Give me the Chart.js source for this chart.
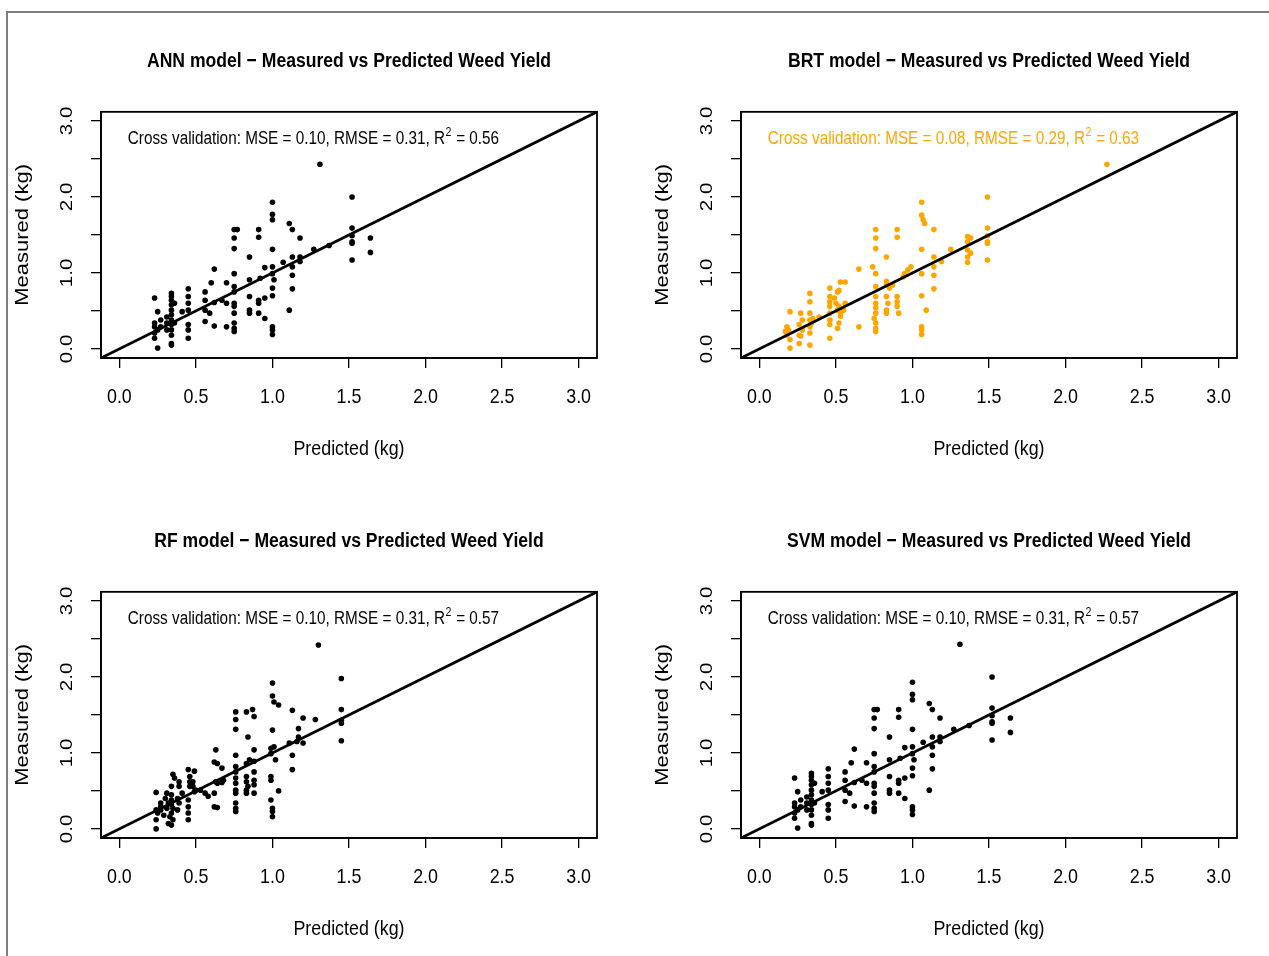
<!DOCTYPE html>
<html>
<head>
<meta charset="utf-8">
<script src="https://cdn.jsdelivr.net/npm/chart.js@4.4.1/dist/chart.umd.min.js"></script>
<style>
    html, body { margin: 0; padding: 0; background: #fff; overflow: hidden; }
    #page { position: relative; width: 1269px; height: 956px; }
    #frame { position: absolute; left: 6px; top: 11px; right: -5px; bottom: -5px;
             border-top: 2px solid #7d7d7d; border-left: 2px solid #7d7d7d; }
    canvas { position: absolute; }
</style>
</head>
<body>
<div id="page">
    <div id="frame"></div>
    <canvas id="annChart" width="640" height="478" style="left:0;top:0"></canvas>
    <canvas id="brtChart" width="640" height="478" style="left:640px;top:0"></canvas>
    <canvas id="rfChart" width="640" height="478" style="left:0;top:480px"></canvas>
    <canvas id="svmChart" width="640" height="478" style="left:640px;top:480px"></canvas>
</div>
<script>
// === Данные ===
const tickValues = [0, 0.5, 1, 1.5, 2, 2.5, 3];
const xTickLabels = ['0.0', '0.5', '1.0', '1.5', '2.0', '2.5', '3.0'];
const yTickLabels = ['0.0', '', '1.0', '', '2.0', '', '3.0'];

const modelNames = ['ANN', 'BRT', 'RF', 'SVM'];
const mseValues = ['0.10', '0.08', '0.10', '0.10'];
const rmseValues = ['0.31', '0.29', '0.31', '0.31'];
const r2Values = ['0.56', '0.63', '0.57', '0.57'];

const annPred = [1.31, 1.52, 1.52, 1.52, 1.52, 1.52, 1.52, 1.64, 1.64, 1.00, 1.00, 1.00, 1.00, 1.00, 1.00, 1.00, 1.00, 1.00, 1.00, 1.00,
    1.11, 1.13, 1.18, 1.13, 1.18, 1.18, 1.13, 1.13, 1.13, 1.11, 1.27, 1.37, 1.07, 0.95, 1.01, 0.91, 0.91, 0.85, 0.75, 0.77,
    0.75, 0.75, 0.75, 0.75, 0.75, 0.75, 0.75, 0.75, 0.75, 0.75, 0.75, 0.85, 0.85, 0.85, 0.85, 0.91, 0.91, 0.91, 0.95, 0.95,
    0.92, 0.70, 0.70, 0.70, 0.62, 0.60, 0.56, 0.56, 0.56, 0.56, 0.59, 0.62, 0.62, 0.67, 0.45, 0.45, 0.45, 0.45, 0.45, 0.45,
    0.45, 0.41, 0.34, 0.34, 0.34, 0.34, 0.34, 0.34, 0.34, 0.34, 0.34, 0.34, 0.34, 0.34, 0.36, 0.36, 0.31, 0.31, 0.31, 0.23,
    0.23, 0.23, 0.23, 0.23, 0.25, 0.25, 0.25, 0.27, 0.27];
const annMeas = [2.43, 2.00, 1.59, 1.49, 1.41, 1.39, 1.17, 1.46, 1.27, 1.93, 1.77, 1.70, 1.31, 1.08, 0.99, 0.80, 0.70, 0.29, 0.25, 0.19,
    1.65, 1.57, 1.46, 1.21, 1.21, 1.15, 1.08, 0.97, 0.79, 0.51, 1.31, 1.36, 1.14, 1.07, 0.91, 1.57, 1.47, 1.21, 1.57, 1.57,
    1.46, 1.32, 0.99, 0.82, 0.75, 0.60, 0.56, 0.47, 0.34, 0.27, 0.23, 0.91, 0.69, 0.51, 0.47, 0.64, 0.60, 0.47, 0.67, 0.40,
    0.93, 0.87, 0.60, 0.29, 1.05, 0.87, 0.75, 0.64, 0.51, 0.36, 0.47, 0.61, 0.30, 0.64, 0.79, 0.69, 0.60, 0.51, 0.32, 0.25,
    0.14, 0.49, 0.73, 0.69, 0.64, 0.58, 0.51, 0.45, 0.38, 0.32, 0.25, 0.18, 0.07, 0.05, 0.60, 0.34, 0.42, 0.34, 0.25, 0.67,
    0.34, 0.29, 0.21, 0.14, 0.49, 0.25, 0.01, 0.38, 0.29];

const brtPred = [2.27, 1.49, 1.49, 1.49, 1.49, 1.49, 1.49, 1.36, 1.38, 1.36, 1.36, 1.36, 1.36, 1.38, 1.25, 1.19, 1.14, 1.14, 1.14, 1.14,
    1.14, 1.06, 1.06, 1.07, 1.08, 1.06, 1.06, 1.06, 1.09, 1.06, 1.06, 1.06, 0.99, 0.97, 0.95, 0.94, 0.83, 0.83, 0.83, 0.83,
    0.84, 0.83, 0.83, 0.90, 0.90, 0.90, 0.90, 0.90, 0.91, 0.87, 0.85, 0.76, 0.76, 0.76, 0.74, 0.76, 0.76, 0.76, 0.76, 0.76,
    0.76, 0.75, 0.76, 0.76, 0.76, 0.65, 0.65, 0.56, 0.53, 0.52, 0.51, 0.46, 0.46, 0.46, 0.46, 0.46, 0.46, 0.46, 0.46, 0.49,
    0.50, 0.51, 0.52, 0.53, 0.55, 0.56, 0.51, 0.52, 0.53, 0.33, 0.33, 0.33, 0.33, 0.33, 0.33, 0.33, 0.34, 0.35, 0.39, 0.27,
    0.28, 0.26, 0.28, 0.26, 0.27, 0.20, 0.18, 0.19, 0.18, 0.20, 0.20, 0.17, 0.26];
const brtMeas = [2.43, 2.00, 1.59, 1.49, 1.41, 1.39, 1.17, 1.48, 1.46, 1.41, 1.30, 1.21, 1.14, 1.26, 1.31, 1.15, 1.57, 1.21, 1.08, 0.97,
    0.79, 1.93, 1.76, 1.70, 1.65, 1.31, 0.99, 0.70, 0.51, 0.29, 0.25, 0.19, 1.08, 1.04, 0.99, 0.95, 1.21, 0.89, 0.84, 0.69,
    0.60, 0.51, 0.47, 1.57, 1.47, 0.69, 0.62, 0.56, 0.47, 0.84, 0.80, 1.57, 1.46, 1.32, 1.08, 0.99, 0.82, 0.69, 0.60, 0.54,
    0.47, 0.40, 0.34, 0.27, 0.23, 1.05, 0.29, 0.88, 0.88, 0.77, 0.75, 0.80, 0.69, 0.62, 0.56, 0.47, 0.38, 0.32, 0.14, 0.67,
    0.60, 0.51, 0.56, 0.47, 0.51, 0.60, 0.27, 0.34, 0.43, 0.73, 0.62, 0.47, 0.38, 0.29, 0.21, 0.05, 0.34, 0.40, 0.42, 0.47,
    0.38, 0.32, 0.25, 0.18, 0.17, 0.49, 0.29, 0.25, 0.18, 0.12, 0.01, 0.23, 0.07];

const rfPred = [1.30, 1.45, 1.45, 1.45, 1.45, 1.45, 1.28, 1.20, 1.20, 1.17, 1.17, 1.16, 1.13, 1.13, 1.13, 1.11, 1.00, 1.00, 1.01, 1.04,
    1.00, 0.99, 1.01, 0.99, 1.02, 0.99, 0.99, 0.99, 1.00, 1.00, 1.00, 1.04, 0.88, 0.88, 0.88, 0.88, 0.88, 0.88, 0.83, 0.83,
    0.84, 0.83, 0.83, 0.84, 0.83, 0.87, 0.88, 0.76, 0.76, 0.76, 0.76, 0.76, 0.76, 0.76, 0.76, 0.76, 0.76, 0.76, 0.76, 0.76,
    0.83, 0.85, 0.63, 0.62, 0.64, 0.67, 0.63, 0.64, 0.67, 0.68, 0.62, 0.62, 0.64, 0.58, 0.56, 0.49, 0.50, 0.53, 0.45, 0.49,
    0.46, 0.46, 0.46, 0.48, 0.48, 0.45, 0.45, 0.45, 0.45, 0.39, 0.39, 0.41, 0.38, 0.39, 0.38, 0.35, 0.36, 0.34, 0.34, 0.34,
    0.34, 0.35, 0.34, 0.33, 0.35, 0.34, 0.32, 0.31, 0.30, 0.32, 0.31, 0.27, 0.29, 0.24, 0.24, 0.25, 0.24, 0.24, 0.27, 0.27];
const rfMeas = [2.42, 1.98, 1.57, 1.43, 1.39, 1.16, 1.44, 1.46, 1.13, 1.32, 1.21, 1.15, 1.56, 0.97, 0.78, 1.13, 1.92, 1.75, 1.67, 1.63,
    1.30, 1.06, 1.08, 0.99, 0.91, 0.69, 0.64, 0.38, 0.27, 0.23, 0.16, 0.50, 1.04, 0.89, 0.75, 0.64, 0.58, 0.47, 0.69, 0.62,
    0.56, 0.51, 0.47, 1.21, 1.54, 1.57, 1.48, 1.54, 1.44, 1.31, 0.97, 0.82, 0.75, 0.67, 0.60, 0.51, 0.47, 0.34, 0.27, 0.23,
    0.86, 0.91, 1.04, 0.88, 0.86, 0.80, 0.62, 0.60, 0.61, 0.64, 0.47, 0.29, 0.28, 0.43, 0.47, 0.49, 0.51, 0.51, 0.78, 0.76,
    0.69, 0.62, 0.56, 0.62, 0.56, 0.38, 0.29, 0.21, 0.12, 0.62, 0.56, 0.47, 0.40, 0.34, 0.25, 0.72, 0.67, 0.56, 0.45, 0.38,
    0.32, 0.27, 0.21, 0.16, 0.12, 0.05, 0.07, 0.47, 0.40, 0.34, 0.27, 0.25, 0.18, 0.48, 0.25, 0.21, 0.12, 0.00, 0.34, 0.29];

const svmPred = [1.31, 1.52, 1.52, 1.52, 1.52, 1.52, 1.52, 1.64, 1.64, 1.00, 1.00, 1.00, 1.00, 1.00, 1.00, 1.00, 1.00, 1.00, 1.00, 1.00,
    1.11, 1.13, 1.18, 1.13, 1.18, 1.18, 1.13, 1.13, 1.13, 1.11, 1.27, 1.37, 1.07, 0.95, 1.01, 0.91, 0.91, 0.85, 0.75, 0.77,
    0.75, 0.75, 0.75, 0.75, 0.75, 0.75, 0.75, 0.75, 0.75, 0.75, 0.75, 0.85, 0.85, 0.85, 0.85, 0.91, 0.91, 0.91, 0.95, 0.95,
    0.92, 0.70, 0.70, 0.70, 0.62, 0.60, 0.56, 0.56, 0.56, 0.56, 0.59, 0.62, 0.62, 0.67, 0.45, 0.45, 0.45, 0.45, 0.45, 0.45,
    0.45, 0.41, 0.34, 0.34, 0.34, 0.34, 0.34, 0.34, 0.34, 0.34, 0.34, 0.34, 0.34, 0.34, 0.36, 0.36, 0.31, 0.31, 0.31, 0.23,
    0.23, 0.23, 0.23, 0.23, 0.25, 0.25, 0.25, 0.27, 0.27];
const svmMeas = [2.43, 2.00, 1.59, 1.49, 1.41, 1.39, 1.17, 1.46, 1.27, 1.93, 1.77, 1.70, 1.31, 1.08, 0.99, 0.80, 0.70, 0.29, 0.25, 0.19,
    1.65, 1.57, 1.46, 1.21, 1.21, 1.15, 1.08, 0.97, 0.79, 0.51, 1.31, 1.36, 1.14, 1.07, 0.91, 1.57, 1.47, 1.21, 1.57, 1.57,
    1.46, 1.32, 0.99, 0.82, 0.75, 0.60, 0.56, 0.47, 0.34, 0.27, 0.23, 0.91, 0.69, 0.51, 0.47, 0.64, 0.60, 0.47, 0.67, 0.40,
    0.93, 0.87, 0.60, 0.29, 1.05, 0.87, 0.75, 0.64, 0.51, 0.36, 0.47, 0.61, 0.30, 0.64, 0.79, 0.69, 0.60, 0.51, 0.32, 0.25,
    0.14, 0.49, 0.73, 0.69, 0.64, 0.58, 0.51, 0.45, 0.38, 0.32, 0.25, 0.18, 0.07, 0.05, 0.60, 0.34, 0.42, 0.34, 0.25, 0.67,
    0.34, 0.29, 0.21, 0.14, 0.49, 0.25, 0.01, 0.38, 0.29];

// Границы осей как в R (0..3 плюс 4%)
const AXIS_MIN = -0.12;
const AXIS_MAX = 3.12;
const FONT = "'Liberation Sans', Arial, sans-serif";
// исходная картинка сжата по горизонтали — сжимаем текст так же (в экранных координатах)
const TEXT_SCALE = 0.85;

Chart.defaults.font.family = FONT;
Chart.defaults.color = '#000';

function squeezeText(ctx) {
    const fillText = ctx.fillText;
    ctx.fillText = function (text, x, y) {
        const m = this.getTransform();
        const px = m.a * x + m.c * y + m.e;
        const k = TEXT_SCALE;
        this.save();
        this.setTransform(k * m.a, m.b, k * m.c, m.d, k * m.e + (1 - k) * px, m.f);
        fillText.call(this, text, x, y);
        this.restore();
    };
}

// рамка вокруг области графика
const boxPlugin = {
    id: 'box',
    afterDatasetsDraw(chart) {
        const { ctx, chartArea: a } = chart;
        ctx.save();
        ctx.strokeStyle = '#000';
        ctx.lineWidth = 1.8;
        ctx.strokeRect(a.left, a.top, a.right - a.left, a.bottom - a.top);
        ctx.restore();
    }
};

// подпись с метриками кросс-валидации
const statPlugin = {
    id: 'stat',
    afterDraw(chart, args, opts) {
        const { ctx, scales } = chart;
        let x = scales.x.getPixelForValue(0.055);
        const y = scales.y.getPixelForValue(2.76);
        ctx.save();
        ctx.fillStyle = opts.color;
        ctx.textBaseline = 'middle';
        ctx.textAlign = 'left';
        ctx.font = `18px ${FONT}`;
        const part1 = `Cross validation: MSE = ${opts.mse}, RMSE = ${opts.rmse}, R`;
        ctx.fillText(part1, x, y);
        x += ctx.measureText(part1).width * TEXT_SCALE;
        ctx.font = `12.5px ${FONT}`;
        ctx.fillText('2', x + 0.5, y - 6.5);
        x += ctx.measureText('2').width * TEXT_SCALE + 1;
        ctx.font = `18px ${FONT}`;
        ctx.fillText(` = ${opts.r2}`, x, y);
        ctx.restore();
    }
};

function makePanel(canvasId, i, pred, meas, color) {
    const points = pred.map((p, k) => ({ x: p, y: meas[k] }));
    const ctx = document.getElementById(canvasId).getContext('2d');
    squeezeText(ctx);

    return new Chart(ctx, {
        type: 'scatter',
        data: {
            datasets: [
                {
                    data: [{ x: AXIS_MIN, y: AXIS_MIN }, { x: AXIS_MAX, y: AXIS_MAX }],
                    showLine: true,
                    borderColor: '#000',
                    borderWidth: 2.8,
                    pointRadius: 0,
                    order: 0
                },
                {
                    data: points,
                    backgroundColor: color,
                    borderWidth: 0,
                    pointRadius: 2.8,
                    order: 1
                }
            ]
        },
        options: {
            responsive: false,
            animation: false,
            events: [],
            layout: { padding: { left: 0, right: 43, top: 0, bottom: 0 } },
            plugins: {
                legend: { display: false },
                tooltip: { enabled: false },
                title: {
                    display: true,
                    fullSize: false,
                    text: `${modelNames[i]} model \u2212 Measured vs Predicted Weed Yield`,
                    font: { size: 20.7, weight: 'bold' },
                    color: '#000',
                    padding: { top: 49, bottom: 38 }
                },
                stat: { color: color, mse: mseValues[i], rmse: rmseValues[i], r2: r2Values[i] }
            },
            scales: {
                x: {
                    type: 'linear',
                    min: AXIS_MIN,
                    max: AXIS_MAX,
                    afterBuildTicks: s => { s.ticks = tickValues.map(v => ({ value: v })); },
                    afterFit: s => { s.height = 120; },
                    ticks: {
                        autoSkip: false,
                        maxRotation: 0,
                        font: { size: 21 },
                        color: '#000',
                        padding: 16.4,
                        callback: (v, k) => xTickLabels[k]
                    },
                    grid: { drawOnChartArea: false, drawTicks: true, tickLength: 10, color: '#000', lineWidth: 1.3 },
                    border: { display: true, color: '#000', width: 1.8 },
                    title: { display: true, text: 'Predicted (kg)', font: { size: 21 }, color: '#000', padding: { top: 0, bottom: 16.4 } }
                },
                y: {
                    type: 'linear',
                    min: AXIS_MIN,
                    max: AXIS_MAX,
                    afterBuildTicks: s => { s.ticks = tickValues.map(v => ({ value: v })); },
                    afterFit: s => { s.width = 101; },
                    ticks: {
                        autoSkip: false,
                        minRotation: 90,
                        maxRotation: 90,
                        crossAlign: 'center',
                        font: { size: 20.5 },
                        color: '#000',
                        padding: 10,
                        callback: (v, k) => yTickLabels[k]
                    },
                    grid: { drawOnChartArea: false, drawTicks: true, tickLength: 10, color: '#000', lineWidth: 1.3 },
                    border: { display: true, color: '#000', width: 1.8 },
                    title: { display: true, text: 'Measured (kg)', font: { size: 22 }, color: '#000', padding: { top: 9.5, bottom: 0 } }
                }
            }
        },
        plugins: [boxPlugin, statPlugin]
    });
}

makePanel('annChart', 0, annPred, annMeas, '#000');
makePanel('brtChart', 1, brtPred, brtMeas, '#FFA500');
makePanel('rfChart', 2, rfPred, rfMeas, '#000');
makePanel('svmChart', 3, svmPred, svmMeas, '#000');
</script>
</body>
</html>
